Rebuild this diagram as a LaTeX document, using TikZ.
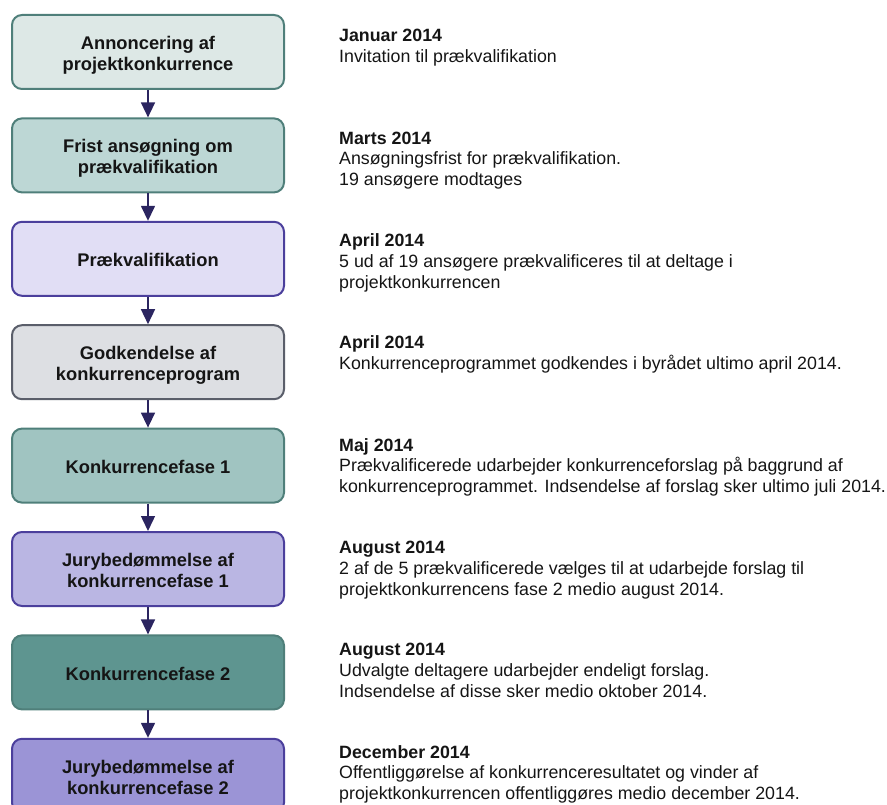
\documentclass[tikz,border=0pt]{standalone}
\usepackage{fontspec}
\setmainfont{Liberation Sans}
\usetikzlibrary{arrows.meta}
\definecolor{tealbd}{HTML}{4F7F7A}
\definecolor{purpbd}{HTML}{4B3F9C}
\definecolor{graybd}{HTML}{5A5E6A}
\definecolor{fA}{HTML}{DDE8E6}
\definecolor{fB}{HTML}{BDD7D5}
\definecolor{fC}{HTML}{E1DEF5}
\definecolor{fD}{HTML}{DDDFE3}
\definecolor{fE}{HTML}{A0C4C1}
\definecolor{fF}{HTML}{BAB6E3}
\definecolor{fG}{HTML}{5E9590}
\definecolor{fH}{HTML}{9B94D6}
\definecolor{arrowc}{HTML}{2B2560}
\definecolor{txt}{HTML}{151515}
\newcommand{\boxlines}[1]{\raisebox{-3.5pt}[\height][\depth]{\begin{tabular}{@{}c@{}}#1\end{tabular}}}
\tikzset{
  stage/.style={draw, rounded corners=10pt, line width=2pt, minimum width=272pt,
    minimum height=74pt, anchor=north, align=center, inner sep=0pt,
    font=\fontsize{18.3}{21}\selectfont\bfseries, text=txt},
  flow/.style={draw=arrowc, line width=1.5pt, -{Triangle[width=14pt,length=15pt]}},
  ttl/.style={anchor=base west, inner sep=0pt, font=\fontsize{17.8}{20.7}\selectfont\bfseries, text=txt},
  dsc/.style={anchor=north west, inner sep=0pt, align=left, font=\fontsize{17.8}{20.9}\selectfont, text=txt}
}
\begin{document}
\begin{tikzpicture}[x=1pt,y=-1pt]
\useasboundingbox (0,0) rectangle (887,805);
\node[stage, fill=fA, draw=tealbd] (b1) at (148,14) {\boxlines{Annoncering af\\projektkonkurrence}};
\node[stage, fill=fB, draw=tealbd] (b2) at (148,117.4) {\boxlines{Frist ansøgning om\\prækvalifikation}};
\node[stage, fill=fC, draw=purpbd] (b3) at (148,220.8) {\boxlines{Prækvalifikation}};
\node[stage, fill=fD, draw=graybd] (b4) at (148,324.2) {\boxlines{Godkendelse af\\konkurrenceprogram}};
\node[stage, fill=fE, draw=tealbd] (b5) at (148,427.6) {\boxlines{Konkurrencefase 1}};
\node[stage, fill=fF, draw=purpbd] (b6) at (148,531) {\boxlines{Jurybedømmelse af\\konkurrencefase 1}};
\node[stage, fill=fG, draw=tealbd] (b7) at (148,634.4) {\boxlines{Konkurrencefase 2}};
\node[stage, fill=fH, draw=purpbd] (b8) at (148,737.8) {\boxlines{Jurybedømmelse af\\konkurrencefase 2}};
\foreach \a/\b in {b1/b2,b2/b3,b3/b4,b4/b5,b5/b6,b6/b7,b7/b8}
  \draw[flow] (\a.south) -- (\b.north);

\node[ttl] (t1) at (339,42) {Januar 2014};
\node[dsc] (d1) at (339,47.8) {\strut Invitation til prækvalifikation};
\node[ttl] (t2) at (339,144.3) {Marts 2014};
\node[dsc] (d2) at (339,150.1) {\strut Ansøgningsfrist for prækvalifikation.\\19 ansøgere modtages};
\node[ttl] (t3) at (339,246.6) {April 2014};
\node[dsc] (d3) at (339,252.4) {\strut 5 ud af 19 ansøgere prækvalificeres til at deltage i\\projektkonkurrencen};
\node[ttl] (t4) at (339,348.9) {April 2014};
\node[dsc] (d4) at (339,354.7) {\strut Konkurrenceprogrammet godkendes i byrådet ultimo april 2014.};
\node[ttl] (t5) at (339,451.2) {Maj 2014};
\node[dsc] (d5) at (339,457) {\strut Prækvalificerede udarbejder konkurrenceforslag på baggrund af\\konkurrenceprogrammet. Indsendelse af forslag sker ultimo juli 2014.};
\node[ttl] (t6) at (339,553.5) {August 2014};
\node[dsc] (d6) at (339,559.3) {\strut 2 af de 5 prækvalificerede vælges til at udarbejde forslag til\\projektkonkurrencens fase 2 medio august 2014.};
\node[ttl] (t7) at (339,655.8) {August 2014};
\node[dsc] (d7) at (339,661.6) {\strut Udvalgte deltagere udarbejder endeligt forslag.\\Indsendelse af disse sker medio oktober 2014.};
\node[ttl] (t8) at (339,758.1) {December 2014};
\node[dsc] (d8) at (339,763.9) {\strut Offentliggørelse af konkurrenceresultatet og vinder af\\projektkonkurrencen offentliggøres medio december 2014.};
\end{tikzpicture}
\end{document}
